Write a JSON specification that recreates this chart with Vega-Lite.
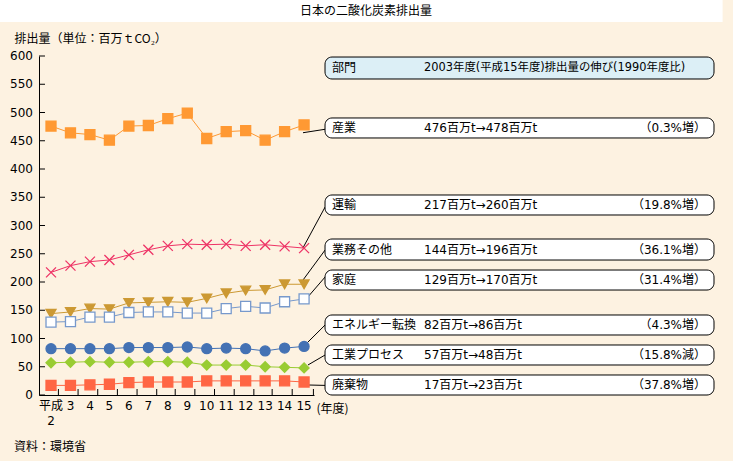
{
  "$schema": "https://vega.github.io/schema/vega-lite/v6.json",
  "autosize": {"type": "none"},
  "width": 275,
  "height": 339,
  "padding": {"top": 56, "left": 39, "right": 419, "bottom": 66},
  "background": "#FDF2E1",
  "config": {
    "view": {"stroke": null},
    "font": "DejaVu Sans, Noto Sans CJK JP",
    "axis": {"domainColor": "#000000", "tickColor": "#000000", "labelColor": "#000000", "titleColor": "#000000", "titleFont": "Noto Sans CJK JP", "titleFontSize": 12, "titleFontWeight": "normal", "grid": false}
  },
  "resolve": {"scale": {"fill": "independent"}},
  "datasets": {
    "series": [
      {"s":"産業","x":2,"v":476},{"s":"産業","x":3,"v":464},{"s":"産業","x":4,"v":461},{"s":"産業","x":5,"v":451},{"s":"産業","x":6,"v":476},{"s":"産業","x":7,"v":477},{"s":"産業","x":8,"v":489},{"s":"産業","x":9,"v":499},{"s":"産業","x":10,"v":454},{"s":"産業","x":11,"v":466},{"s":"産業","x":12,"v":468},{"s":"産業","x":13,"v":451},{"s":"産業","x":14,"v":466},{"s":"産業","x":15,"v":478},
      {"s":"運輸","x":2,"v":217},{"s":"運輸","x":3,"v":229},{"s":"運輸","x":4,"v":236},{"s":"運輸","x":5,"v":239},{"s":"運輸","x":6,"v":248},{"s":"運輸","x":7,"v":257},{"s":"運輸","x":8,"v":264},{"s":"運輸","x":9,"v":267},{"s":"運輸","x":10,"v":266},{"s":"運輸","x":11,"v":267},{"s":"運輸","x":12,"v":264},{"s":"運輸","x":13,"v":266},{"s":"運輸","x":14,"v":263},{"s":"運輸","x":15,"v":260},
      {"s":"業務その他","x":2,"v":144},{"s":"業務その他","x":3,"v":147},{"s":"業務その他","x":4,"v":153},{"s":"業務その他","x":5,"v":152},{"s":"業務その他","x":6,"v":163},{"s":"業務その他","x":7,"v":164},{"s":"業務その他","x":8,"v":165},{"s":"業務その他","x":9,"v":164},{"s":"業務その他","x":10,"v":171},{"s":"業務その他","x":11,"v":180},{"s":"業務その他","x":12,"v":185},{"s":"業務その他","x":13,"v":186},{"s":"業務その他","x":14,"v":196},{"s":"業務その他","x":15,"v":196},
      {"s":"家庭","x":2,"v":129},{"s":"家庭","x":3,"v":130},{"s":"家庭","x":4,"v":138},{"s":"家庭","x":5,"v":138},{"s":"家庭","x":6,"v":146},{"s":"家庭","x":7,"v":147},{"s":"家庭","x":8,"v":147},{"s":"家庭","x":9,"v":145},{"s":"家庭","x":10,"v":145},{"s":"家庭","x":11,"v":153},{"s":"家庭","x":12,"v":157},{"s":"家庭","x":13,"v":154},{"s":"家庭","x":14,"v":165},{"s":"家庭","x":15,"v":170},
      {"s":"エネルギー転換","x":2,"v":82},{"s":"エネルギー転換","x":3,"v":82},{"s":"エネルギー転換","x":4,"v":82},{"s":"エネルギー転換","x":5,"v":82},{"s":"エネルギー転換","x":6,"v":84},{"s":"エネルギー転換","x":7,"v":84},{"s":"エネルギー転換","x":8,"v":84},{"s":"エネルギー転換","x":9,"v":85},{"s":"エネルギー転換","x":10,"v":82},{"s":"エネルギー転換","x":11,"v":83},{"s":"エネルギー転換","x":12,"v":82},{"s":"エネルギー転換","x":13,"v":78},{"s":"エネルギー転換","x":14,"v":83},{"s":"エネルギー転換","x":15,"v":86},
      {"s":"工業プロセス","x":2,"v":57},{"s":"工業プロセス","x":3,"v":58},{"s":"工業プロセス","x":4,"v":59},{"s":"工業プロセス","x":5,"v":58},{"s":"工業プロセス","x":6,"v":58},{"s":"工業プロセス","x":7,"v":59},{"s":"工業プロセス","x":8,"v":59},{"s":"工業プロセス","x":9,"v":58},{"s":"工業プロセス","x":10,"v":53},{"s":"工業プロセス","x":11,"v":53},{"s":"工業プロセス","x":12,"v":53},{"s":"工業プロセス","x":13,"v":50},{"s":"工業プロセス","x":14,"v":49},{"s":"工業プロセス","x":15,"v":48},
      {"s":"廃棄物","x":2,"v":17},{"s":"廃棄物","x":3,"v":17},{"s":"廃棄物","x":4,"v":18},{"s":"廃棄物","x":5,"v":19},{"s":"廃棄物","x":6,"v":22},{"s":"廃棄物","x":7,"v":23},{"s":"廃棄物","x":8,"v":23},{"s":"廃棄物","x":9,"v":23},{"s":"廃棄物","x":10,"v":25},{"s":"廃棄物","x":11,"v":25},{"s":"廃棄物","x":12,"v":25},{"s":"廃棄物","x":13,"v":25},{"s":"廃棄物","x":14,"v":25},{"s":"廃棄物","x":15,"v":23}
    ],
    "yticks": [{"t":0},{"t":50},{"t":100},{"t":150},{"t":200},{"t":250},{"t":300},{"t":350},{"t":400},{"t":450},{"t":500},{"t":550},{"t":600}],
    "xlabels": [{"yr":2,"lab":["平成","2"]},{"yr":3,"lab":"3"},{"yr":4,"lab":"4"},{"yr":5,"lab":"5"},{"yr":6,"lab":"6"},{"yr":7,"lab":"7"},{"yr":8,"lab":"8"},{"yr":9,"lab":"9"},{"yr":10,"lab":"10"},{"yr":11,"lab":"11"},{"yr":12,"lab":"12"},{"yr":13,"lab":"13"},{"yr":14,"lab":"14"},{"yr":15,"lab":"15"}],
    "xticks": [{"p":2.38},{"p":3.39},{"p":4.4},{"p":5.41},{"p":6.42},{"p":7.43},{"p":8.38},{"p":9.39},{"p":10.4},{"p":11.41},{"p":12.42},{"p":13.36},{"p":14.39},{"p":15.48}],
    "boxes": [
      {"kind":"header","name":"部門","val":"2003年度(平成15年度)排出量の伸び(1990年度比)","pct":"","top":598.2,"bot":559.3},
      {"kind":"item","name":"産業","val":"476百万t→478百万t","pct":"（0.3%増）","top":490.3,"bot":454.9},
      {"kind":"item","name":"運輸","val":"217百万t→260百万t","pct":"（19.8%増）","top":354.0,"bot":318.6},
      {"kind":"item","name":"業務その他","val":"144百万t→196百万t","pct":"（36.1%増）","top":276.1,"bot":238.9},
      {"kind":"item","name":"家庭","val":"129百万t→170百万t","pct":"（31.4%増）","top":221.2,"bot":185.8},
      {"kind":"item","name":"エネルギー転換","val":"82百万t→86百万t","pct":"（4.3%増）","top":141.6,"bot":106.2},
      {"kind":"item","name":"工業プロセス","val":"57百万t→48百万t","pct":"（15.8%減）","top":88.5,"bot":53.1},
      {"kind":"item","name":"廃棄物","val":"17百万t→23百万t","pct":"（37.8%増）","top":35.4,"bot":0}
    ],
    "leaders": [
      {"x1":14.945,"y1":464.2,"x2":16.08,"y2":470.3},
      {"x1":14.945,"y1":260.5,"x2":16.08,"y2":332.7},
      {"x1":14.945,"y1":203.5,"x2":16.08,"y2":256.6},
      {"x1":15.15,"y1":171.7,"x2":16.08,"y2":208.8},
      {"x1":15.15,"y1":92.0,"x2":16.08,"y2":123.9},
      {"x1":15.2,"y1":53.1,"x2":16.08,"y2":70.8},
      {"x1":15.2,"y1":17.7,"x2":16.08,"y2":17.0}
    ]
  },
  "layer": [
    {
      "data": {"name": "series"},
      "mark": {"type": "line", "strokeWidth": 1},
      "encoding": {
        "x": {"field": "x", "type": "quantitative", "scale": {"domain": [1.383, 15.51], "nice": false, "zero": false},
          "axis": {"orient": "bottom", "labels": false, "ticks": false,
            "title": "(年度)", "titleX": 277, "titleY": 13, "titleAlign": "left", "titleBaseline": "middle", "titleAnchor": "start"}},
        "y": {"field": "v", "type": "quantitative", "scale": {"domain": [0, 600], "nice": false, "zero": false},
          "axis": {"orient": "left", "labels": false, "ticks": false,
            "title": "排出量（単位：百万ｔCO₂）", "titleAngle": 0, "titleX": -25, "titleY": -18, "titleAlign": "left", "titleBaseline": "middle", "titleAnchor": "start"}},
        "detail": {"field": "s"},
        "stroke": {"field": "s", "type": "nominal", "legend": null,
          "scale": {"domain": ["産業","運輸","業務その他","家庭","エネルギー転換","工業プロセス","廃棄物"], "range": ["#FF9933","#EE3366","#CC9933","#7799CC","#4472B4","#99CC33","#FF6644"]}}
      }
    },
    {
      "data": {"values": [{"band": "title"}]},
      "mark": {"type": "rect", "fill": "#FFFFFF"},
      "encoding": {
        "x": {"datum": -0.7},
        "x2": {"datum": 36.5},
        "y": {"datum": 660.2},
        "y2": {"datum": 699.1}
      }
    },
    {
      "data": {"values": [{"t": "日本の二酸化炭素排出量"}]},
      "mark": {"type": "text", "align": "center", "baseline": "middle", "fontSize": 12, "color": "#000000", "font": "Noto Sans CJK JP"},
      "encoding": {
        "x": {"datum": 18.18},
        "y": {"datum": 680.5},
        "text": {"field": "t"}
      }
    },
    {
      "data": {"name": "yticks"},
      "mark": {"type": "rule", "color": "#000000", "strokeWidth": 1},
      "encoding": {
        "x": {"datum": 1.383},
        "x2": {"datum": 1.691},
        "y": {"field": "t", "type": "quantitative"}
      }
    },
    {
      "data": {"name": "yticks"},
      "mark": {"type": "text", "align": "right", "baseline": "middle", "fontSize": 12, "color": "#000000", "font": "DejaVu Sans, Noto Sans CJK JP"},
      "encoding": {
        "x": {"datum": 1.075},
        "y": {"field": "t", "type": "quantitative"},
        "text": {"field": "t", "type": "quantitative"}
      }
    },
    {
      "data": {"name": "xticks"},
      "mark": {"type": "rule", "color": "#000000", "strokeWidth": 1},
      "encoding": {
        "x": {"field": "p", "type": "quantitative"},
        "y": {"datum": 0},
        "y2": {"datum": 10.6}
      }
    },
    {
      "data": {"name": "xlabels"},
      "mark": {"type": "text", "align": "center", "baseline": "top", "fontSize": 12, "lineHeight": 15, "color": "#000000", "font": "DejaVu Sans, Noto Sans CJK JP"},
      "encoding": {
        "x": {"field": "yr", "type": "quantitative"},
        "y": {"datum": -11.5},
        "text": {"field": "lab"}
      }
    },
    {
      "data": {"name": "leaders"},
      "mark": {"type": "rule", "color": "#000000", "strokeWidth": 1},
      "encoding": {
        "x": {"field": "x1", "type": "quantitative"},
        "y": {"field": "y1", "type": "quantitative"},
        "x2": {"field": "x2"},
        "y2": {"field": "y2"}
      }
    },
    {
      "data": {"name": "series"},
      "mark": {"type": "point", "filled": true, "strokeWidth": 1.3, "opacity": 1},
      "encoding": {
        "x": {"field": "x", "type": "quantitative"},
        "y": {"field": "v", "type": "quantitative"},
        "stroke": {"field": "s", "type": "nominal", "legend": null},
        "fill": {"field": "s", "type": "nominal", "legend": null,
          "scale": {"domain": ["産業","運輸","業務その他","家庭","エネルギー転換","工業プロセス","廃棄物"], "range": ["#FF9933","transparent","#CC9933","#FFFFFF","#4472B4","#99CC33","#FF6644"]}},
        "shape": {"field": "s", "type": "nominal", "legend": null,
          "scale": {"domain": ["産業","運輸","業務その他","家庭","エネルギー転換","工業プロセス","廃棄物"], "range": ["square","M-1,-1L1,1M1,-1L-1,1","triangle-down","square","circle","diamond","square"]}},
        "size": {"field": "s", "type": "nominal", "legend": null,
          "scale": {"domain": ["産業","運輸","業務その他","家庭","エネルギー転換","工業プロセス","廃棄物"], "range": [100, 100, 120, 80, 90, 120, 90]}}
      }
    },
    {
      "data": {"name": "boxes"},
      "mark": {"type": "rect", "cornerRadius": 7, "fill": "#ADADA6", "xOffset": 3, "yOffset": 3},
      "encoding": {
        "x": {"datum": 16.076},
        "x2": {"datum": 36.059},
        "y": {"field": "top", "type": "quantitative"},
        "y2": {"field": "bot"}
      }
    },
    {
      "data": {"name": "boxes"},
      "mark": {"type": "rect", "cornerRadius": 7, "stroke": "#000000", "strokeWidth": 1},
      "encoding": {
        "x": {"datum": 16.076},
        "x2": {"datum": 36.059},
        "y": {"field": "top", "type": "quantitative"},
        "y2": {"field": "bot"},
        "fill": {"field": "kind", "type": "nominal", "legend": null, "scale": {"domain": ["header","item"], "range": ["#DCEFF6","#FFFFFF"]}}
      }
    },
    {
      "data": {"name": "boxes"},
      "transform": [{"calculate": "(datum.top + datum.bot) / 2", "as": "mid"}],
      "mark": {"type": "text", "align": "left", "baseline": "middle", "fontSize": 12, "color": "#000000", "font": "DejaVu Sans, Noto Sans CJK JP"},
      "encoding": {
        "x": {"datum": 16.435},
        "y": {"field": "mid", "type": "quantitative"},
        "text": {"field": "name"}
      }
    },
    {
      "data": {"name": "boxes"},
      "transform": [{"calculate": "(datum.top + datum.bot) / 2", "as": "mid"}],
      "mark": {"type": "text", "align": "left", "baseline": "middle", "fontSize": 12, "color": "#000000", "font": "DejaVu Sans, Noto Sans CJK JP"},
      "encoding": {
        "x": {"datum": 21.161},
        "y": {"field": "mid", "type": "quantitative"},
        "text": {"field": "val"},
        "size": {"condition": {"test": "datum.kind == 'header'", "value": 11.4}, "value": 12}
      }
    },
    {
      "data": {"name": "boxes"},
      "transform": [{"calculate": "(datum.top + datum.bot) / 2", "as": "mid"}],
      "mark": {"type": "text", "align": "right", "baseline": "middle", "fontSize": 12, "color": "#000000", "font": "DejaVu Sans, Noto Sans CJK JP"},
      "encoding": {
        "x": {"datum": 35.648},
        "y": {"field": "mid", "type": "quantitative"},
        "text": {"field": "pct"}
      }
    },
    {
      "data": {"values": [{"t": "資料：環境省"}]},
      "mark": {"type": "text", "align": "left", "baseline": "middle", "fontSize": 12, "color": "#000000", "font": "Noto Sans CJK JP"},
      "encoding": {
        "x": {"datum": 0.099},
        "y": {"datum": -92},
        "text": {"field": "t"}
      }
    }
  ]
}
